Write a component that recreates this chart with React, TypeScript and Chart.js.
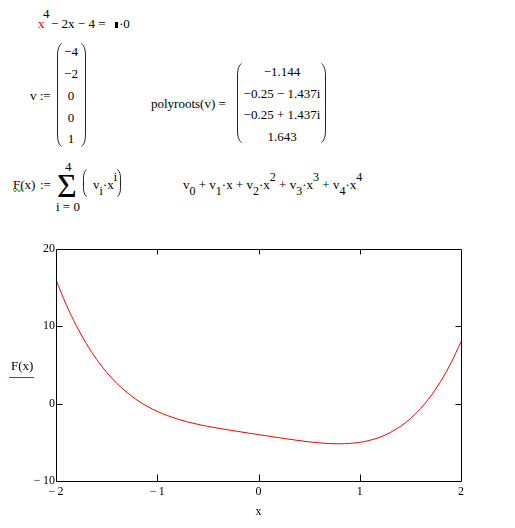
import React, { useEffect, useRef } from "react";
import { Chart, registerables } from "chart.js";

Chart.register(...registerables);

// ---- data ----
const xValues = [
  -2, -1.9, -1.8, -1.7, -1.6, -1.5, -1.4, -1.3, -1.2, -1.1, -1, -0.9, -0.8, -0.7,
  -0.6, -0.5, -0.4, -0.3, -0.2, -0.1, 0, 0.1, 0.2, 0.3, 0.4, 0.5, 0.6, 0.7, 0.8,
  0.9, 1, 1.1, 1.2, 1.3, 1.4, 1.5, 1.6, 1.7, 1.8, 1.9, 2,
];
const fValues = [
  16, 12.83, 10.1, 7.75, 5.75, 4.06, 2.64, 1.46, 0.47, -0.34, -1, -1.54, -1.99,
  -2.36, -2.67, -2.94, -3.17, -3.39, -3.6, -3.8, -4, -4.2, -4.4, -4.59, -4.77,
  -4.94, -5.07, -5.16, -5.19, -5.14, -5, -4.74, -4.33, -3.74, -2.96, -1.94,
  -0.65, 0.95, 2.9, 5.23, 8,
];
const xTicks = [-2, -1, 0, 1, 2];
const yTicks = [-10, 0, 10, 20];
const vEntries = ["\u22124", "\u22122", "0", "0", "1"];
const rootEntries = ["\u22121.144", "\u22120.25 \u2212 1.437i", "\u22120.25 + 1.437i", "1.643"];
const xTitle = "x";
const yTitle = "F(x)";

const FONT = "'Liberation Serif', 'Times New Roman', serif";

const fmt = (v: number) => (v < 0 ? "\u2212\u2009" + Math.abs(v) : String(v));

const framePlugin = {
  id: "mcframe",
  afterDatasetsDraw(chart: any) {
    const { ctx, chartArea: a, scales } = chart;
    const L = Math.round(a.left) + 0.5;
    const R = Math.round(a.right) + 0.5;
    const T = Math.round(a.top) + 0.5;
    const B = Math.round(a.bottom) + 0.5;
    ctx.save();
    ctx.strokeStyle = "#000";
    ctx.lineWidth = 1;
    ctx.beginPath();
    ctx.rect(L, T, R - L, B - T);
    xTicks.slice(1, -1).forEach((v) => {
      const px = Math.round(scales.x.getPixelForValue(v)) + 0.5;
      ctx.moveTo(px, B);
      ctx.lineTo(px, B - 7);
      ctx.moveTo(px, T);
      ctx.lineTo(px, T + 5);
    });
    yTicks.slice(1, -1).forEach((v) => {
      const py = Math.round(scales.y.getPixelForValue(v)) + 0.5;
      ctx.moveTo(L, py);
      ctx.lineTo(L + 6, py);
      ctx.moveTo(R, py);
      ctx.lineTo(R - 6, py);
    });
    ctx.stroke();
    ctx.restore();
  },
};

function T({ x, y, children, style }: any) {
  return (
    <div
      style={{
        position: "absolute",
        left: x,
        top: y - 7,
        lineHeight: "13px",
        whiteSpace: "nowrap",
        ...style,
      }}
    >
      {children}
    </div>
  );
}

function Sub({ children }: any) {
  return <span style={{ position: "relative", top: 6, fontSize: 12 }}>{children}</span>;
}
function Sup({ children }: any) {
  return <span style={{ position: "relative", top: -8, fontSize: 12 }}>{children}</span>;
}

function Paren({ x, y, h, w = 5, right = false }: any) {
  const c = Math.min(14, h / 3);
  const d = right
    ? `M 0.5 0.5 C ${w - 1} 3, ${w - 0.5} ${c * 0.6}, ${w - 0.5} ${c} L ${w - 0.5} ${h - c} C ${w - 0.5} ${h - c * 0.6}, ${w - 1} ${h - 3}, 0.5 ${h - 0.5}`
    : `M ${w - 0.5} 0.5 C 1 3, 0.5 ${c * 0.6}, 0.5 ${c} L 0.5 ${h - c} C 0.5 ${h - c * 0.6}, 1 ${h - 3}, ${w - 0.5} ${h - 0.5}`;
  return (
    <svg
      width={w}
      height={h}
      style={{ position: "absolute", left: x, top: y, overflow: "visible" }}
    >
      <path d={d} fill="none" stroke="#222" strokeWidth={1} />
    </svg>
  );
}

function PlotCanvas() {
  const ref = useRef<HTMLCanvasElement | null>(null);
  useEffect(() => {
    if (!ref.current) return;
    const chart = new Chart(ref.current, {
      type: "line",
      data: {
        datasets: [
          {
            data: xValues.map((x, i) => ({ x, y: fValues[i] })),
            borderColor: "#ff0000",
            borderWidth: 1,
            pointRadius: 0,
            fill: false,
            cubicInterpolationMode: "monotone",
          },
        ],
      },
      options: {
        responsive: false,
        maintainAspectRatio: false,
        devicePixelRatio: 1,
        animation: false,
        layout: { padding: { left: 0, right: 54, top: 13, bottom: 0 } },
        plugins: { legend: { display: false }, tooltip: { enabled: false } },
        scales: {
          x: {
            type: "linear",
            min: xTicks[0],
            max: xTicks[xTicks.length - 1],
            afterBuildTicks: (s: any) => {
              s.ticks = xTicks.map((v) => ({ value: v }));
            },
            afterFit: (s: any) => {
              s.height = 47;
            },
            grid: { display: false, drawTicks: false },
            border: { display: false },
            ticks: {
              callback: (v: any) => fmt(Number(v)),
              font: { family: FONT, size: 12 },
              color: "#000",
              padding: 4,
              maxRotation: 0,
              autoSkip: false,
            },
            title: {
              display: true,
              text: xTitle,
              font: { family: FONT, size: 12 },
              color: "#000",
              padding: { top: 0, bottom: 9 },
            },
          },
          y: {
            type: "linear",
            min: yTicks[0],
            max: yTicks[yTicks.length - 1],
            afterBuildTicks: (s: any) => {
              s.ticks = yTicks.map((v) => ({ value: v }));
            },
            afterFit: (s: any) => {
              s.width = 56;
            },
            grid: { display: false, drawTicks: false },
            border: { display: false },
            ticks: {
              callback: (v: any) => fmt(Number(v)),
              font: { family: FONT, size: 12 },
              color: "#000",
              padding: 1,
              autoSkip: false,
            },
          },
        },
      },
      plugins: [framePlugin],
    } as any);
    return () => chart.destroy();
  }, []);
  return (
    <canvas
      ref={ref}
      width={515}
      height={292}
      style={{ position: "absolute", left: 0, top: 236, width: 515, height: 292 }}
    />
  );
}

export default function App() {
  return (
    <div
      style={{
        position: "fixed",
        left: 0,
        top: 0,
        width: 515,
        height: 528,
        background: "#fff",
        fontFamily: FONT,
        fontSize: 13,
        color: "#000",
        overflow: "hidden",
      }}
    >
      {/* line 1 */}
      <T x={38} y={24} style={{ color: "#e00000" }}>x</T>
      <T x={43} y={14}>4</T>
      <T x={51} y={24}>{"\u2212 2x \u2212 4 ="}</T>
      <div style={{ position: "absolute", left: 115, top: 22, width: 3, height: 6, background: "#000" }} />
      <T x={119} y={24}>{"\u00B70"}</T>

      {/* v := matrix */}
      <T x={30} y={96}>{"v :="}</T>
      <Paren x={57} y={43} h={104} />
      <Paren x={81} y={43} h={104} right />
      {vEntries.map((s, i) => (
        <T key={i} x={59} y={[52, 74, 96, 118, 139][i]} style={{ width: 24, textAlign: "center" }}>
          {s}
        </T>
      ))}

      {/* polyroots */}
      <T x={151} y={104}>{"polyroots(v) ="}</T>
      <Paren x={237} y={63} h={80} />
      <Paren x={321} y={63} h={80} right />
      {rootEntries.map((s, i) => (
        <T key={i} x={242} y={[72, 94, 115, 137][i]} style={{ width: 80, textAlign: "center" }}>
          {s}
        </T>
      ))}

      {/* F(x) := sum */}
      <T x={13} y={185}>{"F(x)"}</T>
      <svg width={12} height={5} style={{ position: "absolute", left: 13, top: 188 }}>
        <polyline points="0,1 2,4 4,1 6,4 8,1 10,4" fill="none" stroke="#2a9a2a" strokeWidth={1} />
      </svg>
      <T x={40} y={185}>{":="}</T>
      <div style={{ position: "absolute", left: 57, top: 169, fontSize: 34, lineHeight: "34px" }}>{"\u03A3"}</div>
      <T x={65} y={167}>4</T>
      <T x={56} y={207}>{"i = 0"}</T>
      <Paren x={83} y={169} h={28} w={4} />
      <Paren x={117} y={169} h={28} w={4} right />
      <T x={93} y={185}>
        v<Sub>i</Sub>
        {"\u00B7x"}
        <Sup>i</Sup>
      </T>

      <T x={183} y={185}>
        v<Sub>0</Sub>
        {" + v"}
        <Sub>1</Sub>
        {"\u00B7x + v"}
        <Sub>2</Sub>
        {"\u00B7x"}
        <Sup>2</Sup>
        {" + v"}
        <Sub>3</Sub>
        {"\u00B7x"}
        <Sup>3</Sup>
        {" + v"}
        <Sub>4</Sub>
        {"\u00B7x"}
        <Sup>4</Sup>
      </T>

      {/* chart */}
      <PlotCanvas />
      <T x={11} y={366}>{yTitle}</T>
      <div style={{ position: "absolute", left: 9, top: 377, width: 25, height: 1, background: "#ff0000" }} />
    </div>
  );
}
